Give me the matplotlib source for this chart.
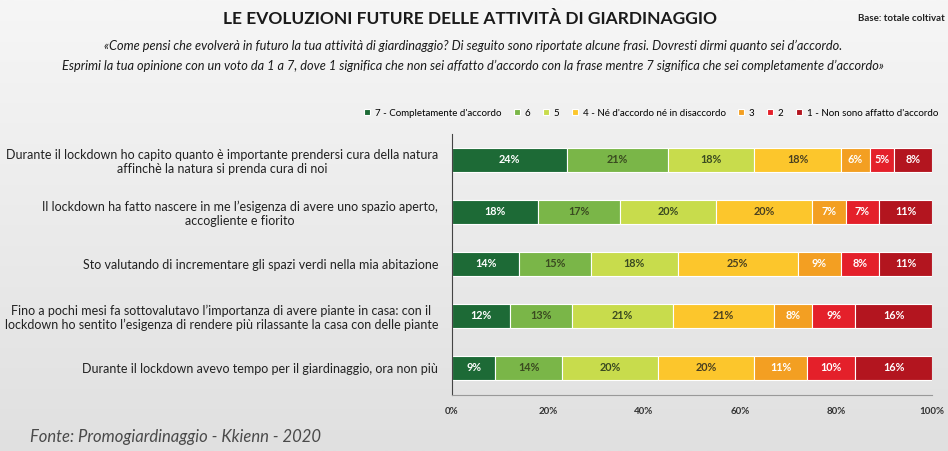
import numpy as np
import matplotlib
matplotlib.use("Agg")
import matplotlib.pyplot as plt
from matplotlib.colors import LinearSegmentedColormap

plt.rcParams['font.family'] = ['Lato', 'DejaVu Sans']

# data
statements = [
    "Durante il lockdown ho capito quanto è importante prendersi cura della natura\naffinchè la natura si prenda cura di noi",
    "Il lockdown ha fatto nascere in me l\u2019esigenza di avere uno spazio aperto,\naccogliente e fiorito",
    "Sto valutando di incrementare gli spazi verdi nella mia abitazione",
    "Fino a pochi mesi fa sottovalutavo l\u2019importanza di avere piante in casa: con il\nlockdown ho sentito l\u2019esigenza di rendere più rilassante la casa con delle piante",
    "Durante il lockdown avevo tempo per il giardinaggio, ora non più",
]
levels = ["7 - Completamente d'accordo", "6", "5", "4 - Né d'accordo né in disaccordo",
          "3", "2", "1 - Non sono affatto d'accordo"]
score7 = [24, 18, 14, 12, 9]
score6 = [21, 17, 15, 13, 14]
score5 = [18, 20, 18, 21, 20]
score4 = [18, 20, 25, 21, 20]
score3 = [6, 7, 9, 8, 11]
score2 = [5, 7, 8, 9, 10]
score1 = [8, 11, 11, 16, 16]
series = [score7, score6, score5, score4, score3, score2, score1]

colors = ["#1d6a36", "#7ab648", "#c8dc4c", "#fcc62c", "#f39f22", "#e4202a", "#b3151f"]
text_colors = ["white", "#3a4a20", "#3a4a20", "#4a4020", "white", "white", "white"]

fig = plt.figure(figsize=(9.48, 4.51), dpi=100)

# soft gray gradient background
bg = fig.add_axes([0, 0, 1, 1], zorder=-10)
cmap = LinearSegmentedColormap.from_list("bg", ["#f6f6f6", "#e0e0e0"])
bg.imshow(np.linspace(0, 1, 256).reshape(-1, 1), aspect="auto", cmap=cmap,
          extent=[0, 1, 0, 1])
bg.axis("off")

ax = fig.add_axes([0.4768, 0.1242, 0.5063, 0.5787])
ax.patch.set_alpha(0)

y = np.arange(len(statements))
left = np.zeros(len(statements))
handles = []
for vals, col, tc, lab in zip(series, colors, text_colors, levels):
    bars = ax.barh(y, vals, left=left, height=0.46, color=col,
                   edgecolor="white", linewidth=0.8, label=lab)
    handles.append(bars)
    for yi, l, v in zip(y, left, vals):
        ax.text(l + v / 2, yi, f"{v}%", ha="center", va="center",
                fontsize=7.8, fontweight="bold", color=tc)
    left += np.array(vals)

ax.set_xlim(0, 100)
ax.set_ylim(4.52, -0.5)
ax.set_yticks(y)
ax.set_yticklabels(statements, fontsize=9.0, color="#222222", multialignment="center")
ax.tick_params(axis="y", length=0, pad=10)
ax.set_xticks([0, 20, 40, 60, 80, 100])
ax.set_xticklabels(["0%", "20%", "40%", "60%", "80%", "100%"], fontsize=7,
                   fontweight="bold", color="#333333")
ax.tick_params(axis="x", length=0, pad=9)
for s in ["top", "right"]:
    ax.spines[s].set_visible(False)
ax.spines["left"].set_color("#444444")
ax.spines["bottom"].set_color("#999999")
ax.spines["left"].set_linewidth(0.8)
ax.spines["bottom"].set_linewidth(0.8)

fig.legend(handles=handles, labels=levels, loc="center", bbox_to_anchor=(0.687, 0.749),
           ncol=7, frameon=False, fontsize=7, handlelength=0.6, handleheight=0.6,
           handletextpad=0.5, columnspacing=1.3)

fig.text(0.496, 0.958, "LE EVOLUZIONI FUTURE DELLE ATTIVITÀ DI GIARDINAGGIO",
         ha="center", va="center", fontsize=12.5, fontweight="bold", color="#1a1a1a")
fig.text(0.905, 0.958, "Base: totale coltivat", ha="left", va="center",
         fontsize=7, fontweight="bold", color="#222222")
fig.text(0.499, 0.876,
         "«Come pensi che evolverà in futuro la tua attività di giardinaggio? Di seguito sono riportate alcune frasi. Dovresti dirmi quanto sei d\u2019accordo.\n"
         "Esprimi la tua opinione con un voto da 1 a 7, dove 1 significa che non sei affatto d\u2019accordo con la frase mentre 7 significa che sei completamente d\u2019accordo»",
         ha="center", va="center", fontsize=9.2, style="italic", color="#1a1a1a",
         linespacing=1.75)
fig.text(0.032, 0.03, "Fonte: Promogiardinaggio - Kkienn - 2020", ha="left",
         va="center", fontsize=12, style="italic", color="#4a4a4a")

fig.savefig("out.png", dpi=100)
